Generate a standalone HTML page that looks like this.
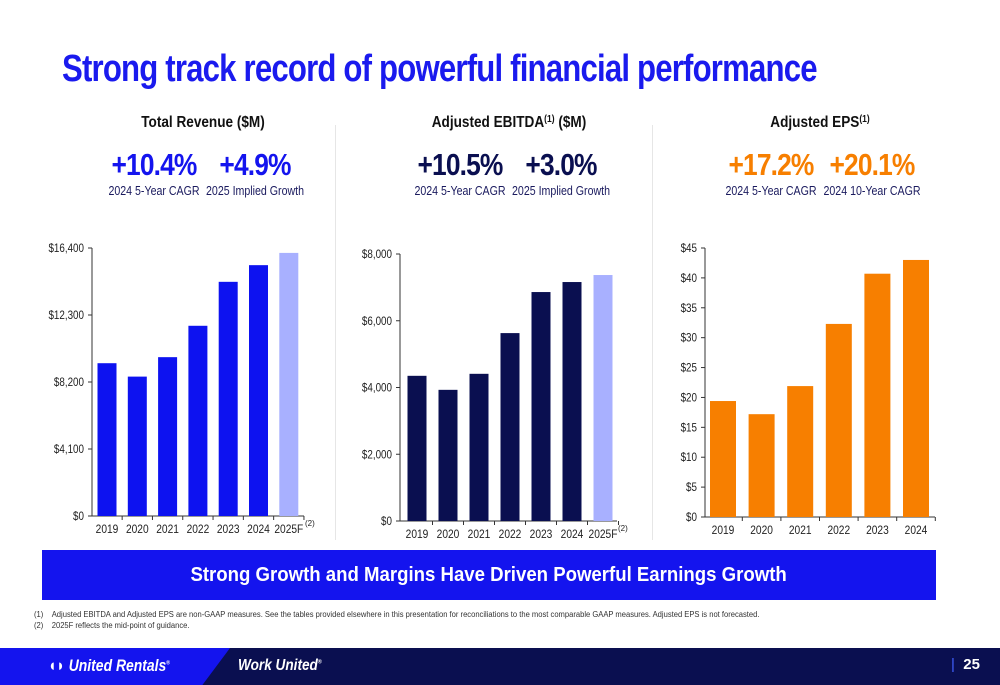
<!DOCTYPE html>
<html><head><meta charset="utf-8"><style>
body{margin:0;width:1000px;height:685px;background:#fff;overflow:hidden;position:relative;font-family:"Liberation Sans",sans-serif}
.abs{position:absolute}
.sq{display:inline-block;transform-origin:0 0}
</style></head><body>
<div class="abs" style="left:62px;top:48px;font-size:38px;font-weight:bold;color:#1a1aee;letter-spacing:-1px;white-space:nowrap;transform:scaleX(0.82);transform-origin:0 0">Strong track record of powerful financial performance</div>
<div class="abs" style="left:335px;top:125px;width:1px;height:415px;background:#e6e6e6"></div>
<div class="abs" style="left:652px;top:125px;width:1px;height:415px;background:#e6e6e6"></div>
<svg class="abs" style="left:0;top:0" width="1000" height="560" id="charts"></svg>
<div class="abs" style="left:42px;top:550px;width:894px;height:50px;background:#1414ee;color:#fff;font-weight:bold;font-size:20px;text-align:center;line-height:50px"><span style="display:inline-block;transform:scaleX(0.93)">Strong Growth and Margins Have Driven Powerful Earnings Growth</span></div>
<div class="abs" style="left:34px;top:609px;font-size:8px;color:#333;line-height:11px;transform:scaleX(0.95);transform-origin:0 0;white-space:nowrap">
<div>(1)&nbsp;&nbsp;&nbsp;&nbsp;Adjusted EBITDA and Adjusted EPS are non-GAAP measures. See the tables provided elsewhere in this presentation for reconciliations to the most comparable GAAP measures. Adjusted EPS is not forecasted.</div>
<div>(2)&nbsp;&nbsp;&nbsp;&nbsp;2025F reflects the mid-point of guidance.</div></div>
<div class="abs" style="left:0;top:648px;width:1000px;height:37px;background:#0a0f50"></div>
<div class="abs" style="left:0;top:648px;width:230px;height:37px;background:#1414ee;clip-path:polygon(0 0,100% 0,88% 100%,0 100%)"></div>
<div class="abs" style="left:48px;top:656px;color:#fff;font-weight:bold;font-style:italic;font-size:17px;transform:scaleX(0.82);transform-origin:0 0;white-space:nowrap">◖◗ United Rentals<sup style="font-size:6px">®</sup></div>
<div class="abs" style="left:238px;top:657px;color:#fff;font-weight:bold;font-style:italic;font-size:16px;transform:scaleX(0.85);transform-origin:0 0;white-space:nowrap">Work United<sup style="font-size:6px">®</sup></div>
<div class="abs" style="left:951px;top:656px;color:#fff;font-weight:bold;font-size:15px"><span style="color:#4060ff;font-weight:normal">|</span>&nbsp; 25</div>
<script>
const revYears=["2019","2020","2021","2022","2023","2024","2025F"];
const revVals=[9350,8530,9720,11640,14330,15350,16100];
const revTicks=[0,4100,8200,12300,16400];
const ebYears=["2019","2020","2021","2022","2023","2024","2025F"];
const ebVals=[4350,3930,4410,5630,6860,7160,7370];
const ebTicks=[0,2000,4000,6000,8000];
const epsYears=["2019","2020","2021","2022","2023","2024"];
const epsVals=[19.4,17.2,21.9,32.3,40.7,43.0];
const epsTicks=[0,5,10,15,20,25,30,35,40,45];
const svg=document.getElementById('charts');
const NS='http://www.w3.org/2000/svg';
function mk(t,a,txt){const e=document.createElementNS(NS,t);for(const k in a)e.setAttribute(k,a[k]);if(txt!==undefined)e.textContent=txt;svg.appendChild(e);return e;}
function tx(x,y,s,a,sx){a.transform='translate('+x+','+y+') scale('+sx+',1)';a.x=0;a.y=0;return mk('text',a,s);}
function fmt(v){return '$'+v.toLocaleString('en-US');}
function chart(o){
  const y=v=>o.y0-(v/o.max)*(o.y0-o.yTop);
  let ax=mk('line',{x1:o.ax,y1:o.yTop,x2:o.ax,y2:o.y0,stroke:'#333','stroke-width':1});
  
  let xa=mk('line',{x1:o.ax,y1:o.y0,x2:o.xEnd,y2:o.y0,stroke:'#333','stroke-width':1});
  
  o.ticks.forEach(t=>{
    mk('line',{x1:o.ax-4,y1:y(t),x2:o.ax,y2:y(t),stroke:'#333'});
    const l=tx(o.ax-8,y(t)+4,fmt(t),{'text-anchor':'end','font-size':12,fill:'#222'},0.82);
    
  });
  const n=o.cats.length;
  o.cats.forEach((c,i)=>{
    const cx=o.x0+i*o.step;
    const b=mk('rect',{x:cx-o.bw/2,y:y(o.vals[i]),width:o.bw,height:o.y0-y(o.vals[i]),fill:(o.light&&i===n-1)?'#a8b0ff':o.color});
    
    const l=tx(cx,o.y0+17,c,{'text-anchor':'middle','font-size':12,fill:'#222'},0.85);
    
    mk('line',{x1:cx+o.step/2,y1:o.y0,x2:cx+o.step/2,y2:o.y0+4,stroke:'#333'});
  });
  if(o.note){const t=mk('text',{x:o.xEnd+1,y:o.y0+10,'font-size':8,fill:'#222'},'(2)');}
  const h=tx(o.hx,127,'',{'text-anchor':'middle','font-size':16,'font-weight':'bold',fill:'#111'},0.85);h.innerHTML=o.title;
  
  o.stats.forEach((s,i)=>{
    const sx=o.hx+(i===0?-49:52);
    const v=tx(sx,175,s[0],{'text-anchor':'middle','font-size':31,'font-weight':'bold',fill:o.statColor,'letter-spacing':'-1'},0.85);
    
    const d=tx(sx,195,s[1],{'text-anchor':'middle','font-size':12.5,fill:'#1a1a5e'},0.85);
    
  });
}
chart({name:'revenue',cats:revYears,vals:revVals,ticks:revTicks,max:16400,y0:516,yTop:248,ax:92,x0:107,step:30.3,bw:19,xEnd:304,color:'#0d12f0',light:true,note:true,hx:203,title:'Total Revenue ($M)',statColor:'#1414ee',stats:[['+10.4%','2024 5-Year CAGR'],['+4.9%','2025 Implied Growth']]});
chart({name:'ebitda',cats:ebYears,vals:ebVals,ticks:ebTicks,max:8000,y0:521,yTop:254,ax:400,x0:417,step:31,bw:19,xEnd:617,color:'#0a0f50',light:true,note:true,hx:509,title:'Adjusted EBITDA<tspan font-size="10" dy="-5">(1)</tspan><tspan dy="5"> ($M)</tspan>',statColor:'#0a0f50',stats:[['+10.5%','2024 5-Year CAGR'],['+3.0%','2025 Implied Growth']]});
chart({name:'eps',cats:epsYears,vals:epsVals,ticks:epsTicks,max:45,y0:517,yTop:248,ax:705,x0:723,step:38.6,bw:26,xEnd:935,color:'#f77f00',light:false,note:false,hx:820,title:'Adjusted EPS<tspan font-size="10" dy="-5">(1)</tspan>',statColor:'#f77f00',stats:[['+17.2%','2024 5-Year CAGR'],['+20.1%','2024 10-Year CAGR']]});
</script>
</body></html>
